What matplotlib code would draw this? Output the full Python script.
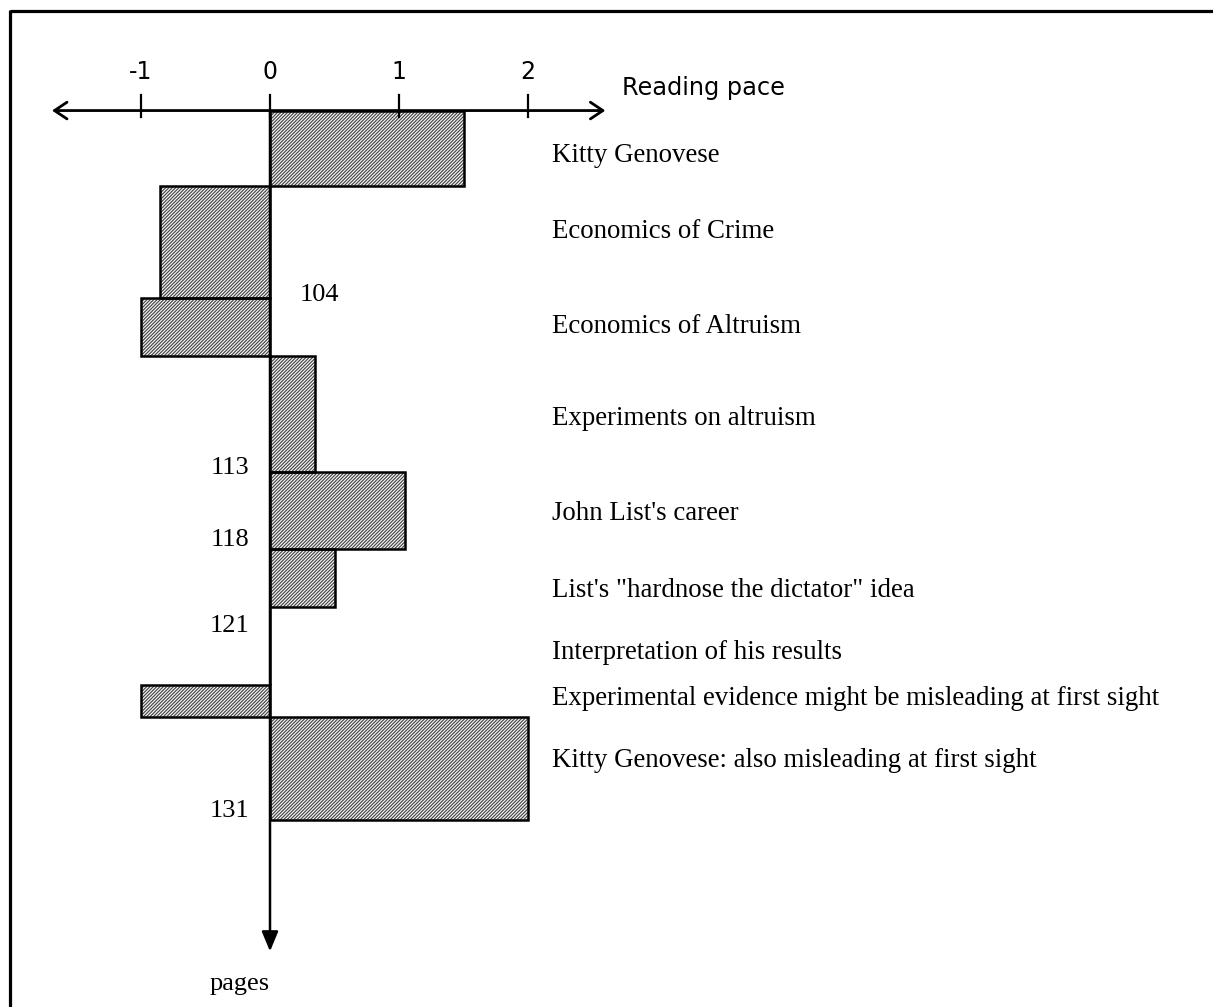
import matplotlib
matplotlib.use("Agg")
import matplotlib.pyplot as plt
from matplotlib.lines import Line2D

plt.rcParams['hatch.linewidth'] = 0.9

# reading pace per section, and the page span of each section
topics = ["Kitty Genovese", "Economics of Crime", "Economics of Altruism",
          "Experiments on altruism", "John List's career",
          "List's \"hardnose the dictator\" idea", "Interpretation of his results",
          "Experimental evidence might be misleading at first sight",
          "Kitty Genovese: also misleading at first sight"]
pace = [1.5, -0.85, -1.0, 0.35, 1.05, 0.5, 0.0, -1.0, 2.0]
page_start = [94.3, 98.2, 104.0, 107.0, 113.0, 117.0, 120.0, 124.0, 125.7]
page_end = [98.2, 104.0, 107.0, 113.0, 117.0, 120.0, 124.0, 125.7, 131.0]
topic_y = [96.96, 100.9, 105.8, 110.57, 115.48, 119.45, 122.68, 125.06, 128.25]

page_labels = ["104", "113", "118", "121", "131"]
page_label_y = [104.16, 113.1, 116.83, 121.28, 130.85]
page_label_side = ["right", "left", "left", "left", "left"]

pace_ticks = [-1, 0, 1, 2]

fig = plt.figure(figsize=(12.13, 10.07), dpi=100)
ax = fig.add_axes([0, 0, 1, 1])
ax.set_xlim(-2.093, 7.310)
ax.set_ylim(140.68, 88.58)
ax.axis("off")

# bars: gray hatch first, then black outline on top
heights = [e - s for s, e in zip(page_start, page_end)]
ax.barh(page_start, pace, height=heights, align="edge", color="white",
        edgecolor="#4a4a4a", linewidth=0, hatch="//////////", zorder=2)
ax.barh(page_start, pace, height=heights, align="edge", fill=False,
        edgecolor="black", linewidth=1.8, zorder=2.5)

axis_y = page_start[0]

# horizontal (reading pace) axis
ax.annotate("", xy=(2.6, axis_y), xytext=(-1.69, axis_y),
            arrowprops=dict(arrowstyle="<->,head_length=0.45,head_width=0.3",
                            lw=2, color="black", shrinkA=0, shrinkB=0,
                            mutation_scale=20), zorder=3)
for t in pace_ticks:
    ax.plot([t, t], [93.5, 94.65], color="black", lw=1.6, zorder=3)
    ax.text(t, 92.67, str(t), ha="center", va="baseline",
            fontsize=17, family="DejaVu Sans")
ax.text(3.357, 93.5, "Reading pace", ha="center", va="baseline",
        fontsize=17.3, family="DejaVu Sans")

# vertical (pages) axis
ax.annotate("", xy=(0, 137.8), xytext=(0, axis_y),
            arrowprops=dict(arrowstyle="-|>,head_length=0.6,head_width=0.25",
                            lw=1.8, color="black", shrinkA=0, shrinkB=0,
                            mutation_scale=20), zorder=3)
ax.text(-0.233, 139.8, "pages", ha="center", va="baseline",
        fontsize=19, family="Liberation Serif")

# page numbers
for lab, y, side in zip(page_labels, page_label_y, page_label_side):
    if side == "right":
        ax.annotate(lab, xy=(0, y), xytext=(30, 0), textcoords="offset pixels",
                    ha="left", va="baseline", fontsize=19, family="Liberation Serif")
    else:
        ax.annotate(lab, xy=(0, y), xytext=(-21, 0), textcoords="offset pixels",
                    ha="right", va="baseline", fontsize=19, family="Liberation Serif")

# section names
for name, y in zip(topics, topic_y):
    ax.text(2.186, y, name, ha="left", va="baseline", fontsize=19.4,
            family="Liberation Serif")

# frame lines (top and left)
fig.add_artist(Line2D([9.5 / 1213, 1], [1 - 11 / 1007, 1 - 11 / 1007],
                      transform=fig.transFigure, color="black", lw=2.3,
                      solid_capstyle="butt"))
fig.add_artist(Line2D([9.5 / 1213, 9.5 / 1213], [0, 1 - 10 / 1007],
                      transform=fig.transFigure, color="black", lw=2.3,
                      solid_capstyle="butt"))

fig.savefig("out.png", dpi=100)
